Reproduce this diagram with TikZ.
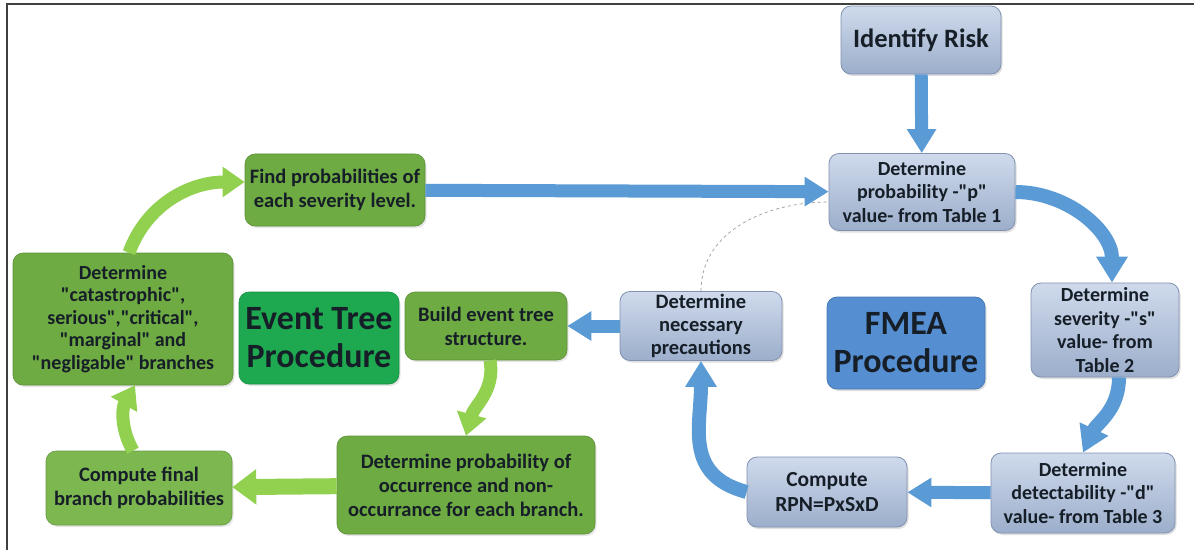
\documentclass[tikz,border=0pt]{standalone}
\usepackage{fontspec}
\newfontfamily\carlito{Carlito}
\usetikzlibrary{arrows.meta,shadows}
\definecolor{boxtop}{RGB}{207,218,236}
\definecolor{boxbot}{RGB}{156,174,203}
\definecolor{boxedge}{RGB}{128,146,176}
\definecolor{fmeablue}{RGB}{86,142,210}
\definecolor{arrowblue}{RGB}{91,155,213}
\definecolor{etgreen}{RGB}{110,171,66}
\definecolor{etlight}{RGB}{124,183,80}
\definecolor{etdark}{RGB}{30,168,80}
\definecolor{arrowgreen}{RGB}{146,208,80}
\definecolor{txtdark}{RGB}{22,30,40}
\tikzset{
  fmeabox/.style={draw=boxedge, line width=0.8pt, rounded corners=10pt, top color=boxtop, bottom color=boxbot,
    align=center, text=txtdark, inner sep=2pt, font=\carlito\fontsize{20}{23.5}\selectfont\bfseries,
    drop shadow={shadow xshift=1.5pt, shadow yshift=-2pt, opacity=.25}},
  etbox/.style={draw=etgreen!85!black, line width=0.6pt, rounded corners=10pt, fill=etgreen,
    align=center, text=txtdark, inner sep=2pt, font=\carlito\fontsize{20.5}{24}\selectfont\bfseries,
    drop shadow={shadow xshift=1.5pt, shadow yshift=-2pt, opacity=.2}},
  titlefont/.style={font=\carlito\fontsize{34}{38}\selectfont\bfseries},
  bluearrow/.style={draw=arrowblue, line width=13pt, -{Triangle[width=28pt,length=24pt]}},
  bluebend/.style={draw=arrowblue, line width=14pt, -{Triangle[width=30pt,length=26pt]}},
  greenarrow/.style={draw=arrowgreen, line width=13pt, -{Triangle[width=29pt,length=22pt]}}
}
\begin{document}
\begin{tikzpicture}[x=1pt,y=1pt]
\useasboundingbox (0,0) rectangle (1194,550);
\fill[white] (0,0) rectangle (1194,550);
\draw[line width=1.2pt, black!75] (7,0) -- (7,546) -- (1194,546);

\node[fmeabox, minimum width=160pt, minimum height=68pt, font=\carlito\fontsize{26.5}{30}\selectfont\bfseries] (risk) at (921,510) {Identify Risk};
\node[fmeabox, minimum width=186pt, minimum height=77pt] (prob) at (922,358) {Determine\\probability -"p"\\value- from Table 1};
\node[fmeabox, minimum width=148pt, minimum height=94pt] (sev) at (1105,220) {Determine\\severity -"s"\\value- from\\Table 2};
\node[fmeabox, minimum width=184pt, minimum height=80pt] (det) at (1083,57) {Determine\\detectability -"d"\\value- from Table 3};
\node[fmeabox, minimum width=160pt, minimum height=70pt, font=\carlito\fontsize{21.5}{25}\selectfont\bfseries] (rpn) at (827,58) {Compute\\RPN=PxSxD};
\node[fmeabox, minimum width=162pt, minimum height=69pt, font=\carlito\fontsize{20.5}{23}\selectfont\bfseries] (prec) at (701,224) {Determine\\necessary\\precautions};
\node[fmeabox, top color=fmeablue, bottom color=fmeablue, draw=fmeablue!85!black, titlefont, minimum width=158pt, minimum height=92pt] (fmea) at (906,207) {FMEA\\Procedure};

\node[etbox, minimum width=180pt, minimum height=72pt] (find) at (335,360) {Find probabilities of\\each severity level.};
\node[etbox, minimum width=220pt, minimum height=132pt, font=\carlito\fontsize{20}{22.5}\selectfont\bfseries] (cat) at (123,231) {Determine\\"catastrophic",\\serious","critical",\\"marginal" and\\"negligable" branches};
\node[etbox, fill=etdark, draw=etdark!85!black, titlefont, minimum width=160pt, minimum height=92pt] (etp) at (319,212) {Event Tree\\Procedure};
\node[etbox, minimum width=162pt, minimum height=68pt] (build) at (486,224) {Build event tree\\structure.};
\node[etbox, minimum width=258pt, minimum height=98pt] (occ) at (466,65) {Determine probability of\\occurrence and non-\\occurrance for each branch.};
\node[etbox, fill=etlight, draw=etlight!85!black, minimum width=186pt, minimum height=74pt] (final) at (139,62) {Compute final\\branch probabilities};

\draw[dashed, gray!80, line width=0.7pt] (prec.north) to[out=90,in=180] ([yshift=-10pt]prob.west);
\draw[bluearrow] (risk) -- (prob);
\draw[bluearrow] (find) -- (prob);
\draw[bluebend] (prob.east) to[out=0,in=90] ([xshift=7pt]sev.north);
\draw[bluebend] ([xshift=14pt]sev.south) to[out=-90,in=65] (det.north);
\draw[bluearrow] (det) -- (rpn);
\draw[bluebend] (rpn.west) to[out=165,in=-90,looseness=1.2] (prec.south);
\draw[bluearrow] (prec) -- (build);

\draw[greenarrow] ([xshift=4pt]build.south) to[out=-80,in=75] (occ.north);
\draw[greenarrow, line width=16pt, -{Triangle[width=34pt,length=24pt]}] (occ) -- (final);
\draw[greenarrow] ([xshift=-6pt]final.north) to[out=120,in=-120] ([xshift=12pt]cat.south);
\draw[greenarrow] ([xshift=6pt]cat.north) to[out=70,in=180] ([yshift=8pt]find.west);
\end{tikzpicture}
\end{document}
